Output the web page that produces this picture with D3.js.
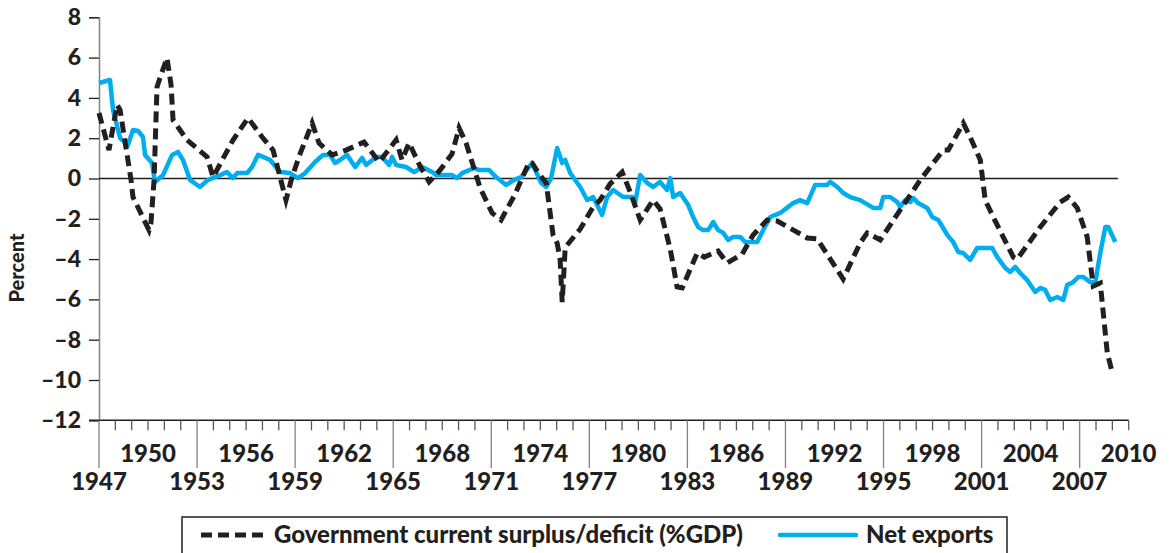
<!DOCTYPE html>
<html>
<head>
<meta charset="utf-8">
<script src="https://cdn.jsdelivr.net/npm/d3@7"></script>
<style>
  body { margin: 0; background: #fff; }
  text { font-family: Lato, "Open Sans", sans-serif; font-weight: 900; fill: #231f20; }
</style>
</head>
<body>
<script>
// chart size
const width = 1170;
const height = 553;

// government current surplus/deficit, % of GDP  [year, value]
const govYears = [1947.00, 1947.61, 1948.10, 1948.29, 1948.96, 1949.08, 1950.06, 1950.18, 1950.37, 1950.55,
  1950.73, 1951.16, 1951.41, 1951.53, 1952.39, 1953.12, 1953.61, 1953.98, 1955.20, 1956.12,
  1956.98, 1957.65, 1958.44, 1958.81, 1959.30, 1960.04, 1960.46, 1961.26, 1962.12, 1963.22,
  1964.14, 1965.18, 1965.54, 1965.97, 1966.64, 1967.20, 1967.87, 1968.60, 1969.03, 1969.46,
  1970.32, 1971.05, 1971.60, 1972.46, 1973.32, 1973.50, 1973.93, 1974.36, 1974.78, 1975.03,
  1975.21, 1975.34, 1975.52, 1975.64, 1976.44, 1977.23, 1977.66, 1978.27, 1979.01, 1979.50,
  1980.11, 1980.90, 1981.33, 1981.95, 1982.37, 1982.68, 1983.60, 1984.03, 1984.88, 1985.43,
  1986.35, 1987.02, 1987.88, 1988.49, 1989.60, 1990.33, 1990.94, 1991.74, 1992.53, 1993.57,
  1994.00, 1994.80, 1996.02, 1997.25, 1998.65, 1998.96, 1999.88, 2000.30, 2000.92, 2001.22,
  2001.71, 2002.94, 2003.18, 2004.59, 2005.81, 2006.30, 2006.85, 2007.46, 2007.83, 2008.26,
  2008.69, 2009.00];
const govValues = [3.25, 1.41, 3.65, 3.40, -0.07, -0.92, -2.56, -2.20, -0.07, 4.54,
  4.99, 5.98, 4.64, 2.90, 1.91, 1.41, 1.07, 0.07, 1.91, 3.00,
  2.06, 1.41, -1.07, 0.07, 1.22, 2.75, 1.76, 1.17, 1.41, 1.81,
  0.82, 1.91, 0.92, 1.76, 0.62, -0.17, 0.42, 1.22, 2.51, 1.76,
  -0.47, -1.71, -2.06, -0.77, 0.82, 0.77, 0.22, -0.22, -2.80, -3.20,
  -4.00, -6.13, -3.50, -3.30, -2.51, -1.41, -1.07, -0.27, 0.32, -0.67,
  -2.06, -1.07, -1.51, -3.50, -5.38, -5.43, -3.70, -3.90, -3.60, -4.19,
  -3.75, -2.80, -2.06, -2.11, -2.61, -2.95, -3.00, -4.00, -4.99, -3.20,
  -2.70, -3.05, -1.56, -0.07, 1.41, 1.41, 2.75, 2.06, 0.92, -1.07,
  -1.91, -3.90, -4.00, -2.41, -1.17, -0.92, -1.46, -2.90, -5.34, -5.19,
  -8.66, -9.65];

// net exports, % of GDP  [year, value]
const nxYears = [1947.00, 1947.67, 1947.86, 1948.29, 1948.77, 1949.08, 1949.39, 1949.69, 1949.82, 1950.24,
  1950.43, 1950.92, 1951.47, 1951.83, 1952.14, 1952.57, 1953.18, 1953.67, 1954.41, 1954.83,
  1955.20, 1955.45, 1956.06, 1956.36, 1956.73, 1957.04, 1957.47, 1958.08, 1958.69, 1959.18,
  1959.61, 1960.22, 1960.71, 1961.14, 1961.44, 1961.75, 1962.18, 1962.67, 1963.10, 1963.34,
  1963.95, 1964.32, 1964.75, 1964.93, 1965.18, 1965.79, 1966.28, 1966.77, 1967.38, 1967.62,
  1968.60, 1968.91, 1969.22, 1969.95, 1970.26, 1970.87, 1971.29, 1971.91, 1972.40, 1972.83,
  1973.50, 1974.05, 1974.36, 1974.66, 1975.03, 1975.34, 1975.52, 1975.83, 1976.44, 1976.87,
  1977.23, 1977.78, 1978.09, 1978.46, 1979.07, 1979.62, 1979.80, 1980.11, 1980.54, 1980.90,
  1981.33, 1981.76, 1981.95, 1982.13, 1982.56, 1983.05, 1983.35, 1983.66, 1983.96, 1984.27,
  1984.58, 1984.88, 1985.19, 1985.49, 1985.80, 1986.23, 1986.53, 1986.96, 1987.27, 1987.64,
  1988.07, 1988.68, 1989.17, 1989.47, 1989.90, 1990.33, 1990.82, 1991.55, 1991.74, 1992.17,
  1992.53, 1992.96, 1993.57, 1993.88, 1994.37, 1994.80, 1994.98, 1995.41, 1995.84, 1996.02,
  1996.33, 1996.63, 1996.82, 1997.12, 1997.67, 1997.98, 1998.35, 1998.90, 1999.26, 1999.57,
  1999.88, 2000.30, 2000.73, 2001.65, 2001.96, 2002.45, 2002.75, 2003.06, 2003.36, 2003.79,
  2004.28, 2004.59, 2004.89, 2005.20, 2005.63, 2006.00, 2006.24, 2006.55, 2006.91, 2007.22,
  2007.65, 2007.95, 2008.26, 2008.57, 2008.75, 2009.18];
const nxValues = [4.74, 4.89, 3.40, 2.01, 1.66, 2.41, 2.36, 2.06, 1.17, 0.77,
  -0.17, 0.17, 1.17, 1.32, 0.92, -0.07, -0.42, -0.07, 0.17, 0.32,
  0.02, 0.27, 0.27, 0.57, 1.17, 1.07, 0.92, 0.32, 0.27, 0.02,
  0.27, 0.82, 1.17, 1.17, 0.77, 0.92, 1.17, 0.57, 1.02, 0.67,
  1.07, 1.07, 0.67, 1.07, 0.67, 0.57, 0.32, 0.57, 0.32, 0.17,
  0.17, 0.02, 0.27, 0.52, 0.42, 0.42, 0.07, -0.32, -0.07, 0.07,
  0.77, -0.22, -0.42, 0.02, 1.51, 0.77, 0.92, 0.27, -0.42, -1.07,
  -0.92, -1.81, -0.92, -0.57, -0.92, -0.92, -1.22, 0.17, -0.22, -0.42,
  -0.17, -0.57, 0.02, -0.92, -0.72, -1.32, -1.91, -2.41, -2.56, -2.56,
  -2.16, -2.56, -2.70, -3.05, -2.90, -2.90, -3.15, -3.15, -3.15, -2.56,
  -1.91, -1.71, -1.41, -1.22, -1.07, -1.22, -0.32, -0.32, -0.17, -0.42,
  -0.72, -0.92, -1.07, -1.22, -1.46, -1.46, -0.92, -0.92, -1.17, -1.41,
  -1.07, -1.17, -0.97, -1.22, -1.46, -1.91, -2.06, -2.80, -3.15, -3.65,
  -3.70, -4.04, -3.45, -3.45, -3.90, -4.44, -4.64, -4.39, -4.69, -5.04,
  -5.63, -5.43, -5.53, -6.03, -5.88, -6.03, -5.28, -5.18, -4.89, -4.89,
  -5.14, -5.18, -3.70, -2.41, -2.41, -3.15];

// axis ticks
const yTicks = [-12, -10, -8, -6, -4, -2, 0, 2, 4, 6, 8];
const xYears = d3.range(1947, 2011);
const legendLabels = ["Government current surplus/deficit (%GDP)", "Net exports"];

const svg = d3.select("body").append("svg")
    .attr("width", width)
    .attr("height", height);

// scales
const x = d3.scaleLinear().domain([1947, 2010]).range([99, 1128.7]);
const y = d3.scaleLinear().domain([-12, 8]).range([420.3, 17.3]);

// y axis
const yAxis = svg.append("g")
    .attr("transform", "translate(99,0)")
    .call(d3.axisLeft(y).tickValues(yTicks).tickSize(10).tickPadding(8)
        .tickFormat(d => d < 0 ? "\u2013" + Math.abs(d) : d));
yAxis.select(".domain").attr("stroke", "#808285").attr("stroke-width", 1.5);
yAxis.selectAll(".tick line").attr("stroke", "#231f20").attr("stroke-width", 1.3);
yAxis.selectAll(".tick text")
    .attr("font-size", 23)
    .attr("font-family", "Lato, sans-serif")
    .attr("font-weight", 900)
    .attr("fill", "#231f20");

svg.append("text")
    .attr("transform", "translate(24,268) rotate(-90)")
    .attr("text-anchor", "middle")
    .attr("font-size", 20)
    .text("Percent");

// x axis: one tick a year, long line every 6 years, labels in two rows
const xg = svg.append("g");
xg.append("line")
    .attr("x1", 89).attr("x2", x(2010))
    .attr("y1", y(-12)).attr("y2", y(-12))
    .attr("stroke", "#231f20").attr("stroke-width", 1.5);

xg.selectAll(".xtick")
    .data(xYears)
    .join("line")
    .attr("x1", d => x(d)).attr("x2", d => x(d))
    .attr("y1", y(-12))
    .attr("y2", d => (d - 1947) % 6 === 0 ? 468 : y(-12) + 10)
    .attr("stroke", d => (d - 1947) % 6 === 0 ? "#808285" : "#58595b")
    .attr("stroke-width", 1.3);

xg.selectAll(".xlabel")
    .data(xYears.filter(d => (d - 1947) % 3 === 0))
    .join("text")
    .attr("x", d => x(d))
    .attr("y", d => (d - 1947) % 6 === 0 ? 490 : 462)
    .attr("text-anchor", "middle")
    .attr("font-size", 24)
    .text(d => d);

// zero line
svg.append("line")
    .attr("x1", x(1947)).attr("x2", 1118)
    .attr("y1", y(0)).attr("y2", y(0))
    .attr("stroke", "#231f20").attr("stroke-width", 1.3);

// series
const line = d3.line()
    .x(d => x(d[0]))
    .y(d => y(d[1]));

const nxData = nxYears.map((yr, i) => [yr, nxValues[i]]);
const govData = govYears.map((yr, i) => [yr, govValues[i]]);

svg.append("path")
    .datum(nxData)
    .attr("d", line)
    .attr("fill", "none")
    .attr("stroke", "#00aeef")
    .attr("stroke-width", 4.5)
    .attr("stroke-linejoin", "round");

svg.append("path")
    .datum(govData)
    .attr("d", line)
    .attr("fill", "none")
    .attr("stroke", "#231f20")
    .attr("stroke-width", 5)
    .attr("stroke-dasharray", "11,6");

// legend
const lg = svg.append("g");
lg.append("rect")
    .attr("x", 182).attr("y", 517)
    .attr("width", 825).attr("height", 60)
    .attr("fill", "none")
    .attr("stroke", "#231f20")
    .attr("stroke-width", 1.5);

lg.append("line")
    .attr("x1", 201).attr("x2", 268)
    .attr("y1", 535).attr("y2", 535)
    .attr("stroke", "#231f20").attr("stroke-width", 5)
    .attr("stroke-dasharray", "11,6");
lg.append("text")
    .attr("x", 274).attr("y", 543)
    .attr("font-size", 24)
    .text(legendLabels[0]);

lg.append("line")
    .attr("x1", 780).attr("x2", 856)
    .attr("y1", 535).attr("y2", 535)
    .attr("stroke", "#00aeef").attr("stroke-width", 4.5)
    .attr("stroke-linecap", "round");
lg.append("text")
    .attr("x", 866).attr("y", 543)
    .attr("font-size", 24)
    .text(legendLabels[1]);
</script>
</body>
</html>
